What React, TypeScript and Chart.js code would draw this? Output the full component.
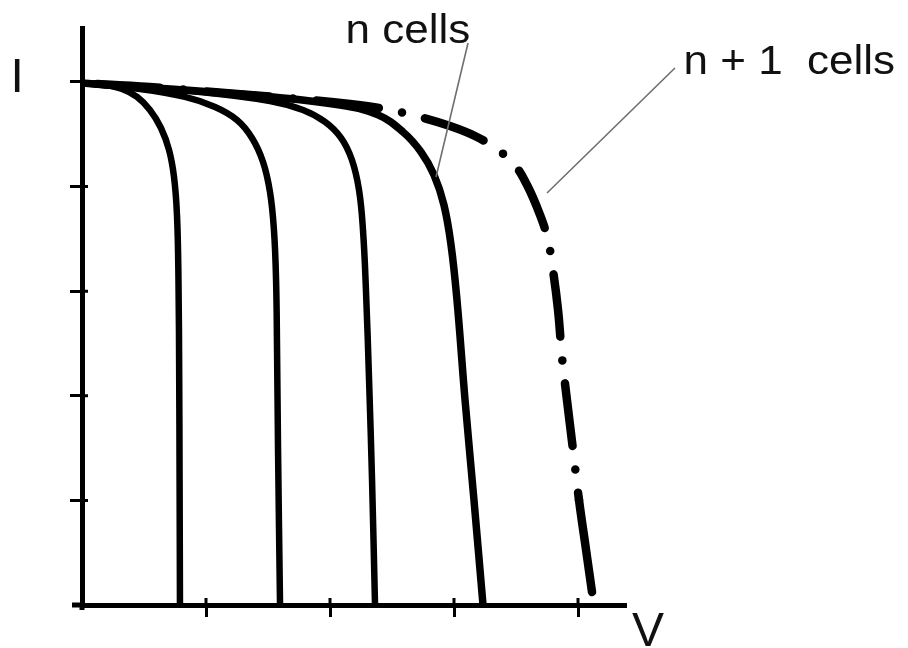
import React, { useEffect, useRef } from 'react';
import { Chart, registerables } from 'chart.js';

Chart.register(...registerables);

// ---- Data (V, I) ----
const curve1V = [0, 0.185, 0.323, 0.444, 0.548, 0.637, 0.702, 0.742, 0.766, 0.778, 0.784, 0.787, 0.79];
const curve1I = [4.99, 4.971, 4.933, 4.857, 4.732, 4.56, 4.35, 4.092, 3.728, 3.107, 2.151, 1.195, 0];

const curve2V = [0, 0.468, 0.831, 1.073, 1.25, 1.371, 1.46, 1.516, 1.548, 1.565, 1.573, 1.581, 1.597];
const curve2I = [4.99, 4.933, 4.857, 4.761, 4.637, 4.465, 4.235, 3.948, 3.585, 3.107, 2.438, 1.482, 0];

const curve3V = [0, 0.952, 1.516, 1.782, 1.96, 2.089, 2.177, 2.234, 2.266, 2.29, 2.315, 2.339, 2.363];
const curve3I = [4.99, 4.904, 4.818, 4.732, 4.618, 4.465, 4.254, 3.967, 3.585, 3.011, 2.151, 1.195, 0];

// "n cells"
const curveNV = [0, 1.355, 2.081, 2.387, 2.589, 2.734, 2.839, 2.919, 2.976, 3.024, 3.089, 3.161, 3.234];
const curveNI = [4.99, 4.876, 4.78, 4.685, 4.522, 4.331, 4.111, 3.824, 3.442, 2.916, 1.96, 1.004, 0];

// "n + 1 cells" (dash-dot)
const curveN1V = [0, 0.548, 0.952, 1.355, 1.758, 2.161, 2.484, 2.726, 2.968, 3.169, 3.331, 3.476, 3.589, 3.694, 3.758, 3.798, 3.839, 3.871, 3.911, 3.96, 4.008, 4.065, 4.113];
const curveN1I = [4.99, 4.952, 4.914, 4.876, 4.837, 4.79, 4.732, 4.665, 4.579, 4.484, 4.369, 4.226, 4.015, 3.728, 3.489, 3.203, 2.82, 2.371, 1.96, 1.482, 1.004, 0.526, 0.124];
// index from which the last stroke of the dash-dot curve runs unbroken to its end
const curveN1SolidFrom = 20;

const xTickValues = [1, 2, 3, 4];
const yTickValues = [1, 2, 3, 4, 5];
const xMax = 4.379;
const yMax = 5.516;

const axisLabelX = 'V';
const axisLabelY = 'I';
const curveLabels = ['n cells', 'n + 1  cells'];

// annotation anchors, in data units (V, I)
const curveLabelV = [2.125, 4.851];
const curveLabelI = [5.373, 5.076];
const leaderFromV = [3.113, 4.782];
const leaderFromI = [5.373, 5.134];
const leaderToV = [2.855, 3.75];
const leaderToI = [4.092, 3.939];
const axisLabelXPos = [4.435, -0.392];
const axisLabelYPos = [-0.577, 4.904];

const toPoints = (vs: number[], is: number[]) => vs.map((v, i) => ({ x: v, y: is[i] }));

const FONT = '"Liberation Sans", Arial, sans-serif';

const annotate = {
  id: 'annotate',
  afterDraw(chart: any) {
    const { ctx, scales } = chart;
    const x = scales.x;
    const y = scales.y;
    ctx.save();

    // axis extensions past the origin and inner tick stubs
    ctx.strokeStyle = '#000';
    ctx.lineCap = 'butt';
    ctx.lineWidth = 5;
    ctx.beginPath();
    ctx.moveTo(x.left - 10, y.bottom);
    ctx.lineTo(x.left, y.bottom);
    ctx.moveTo(x.left, y.bottom);
    ctx.lineTo(x.left, y.bottom + 5);
    ctx.stroke();

    ctx.lineWidth = 3;
    ctx.beginPath();
    xTickValues.forEach((v) => {
      const px = x.getPixelForValue(v);
      ctx.moveTo(px, y.bottom);
      ctx.lineTo(px, y.bottom - 7);
    });
    yTickValues.forEach((v) => {
      const py = y.getPixelForValue(v);
      ctx.moveTo(x.left, py);
      ctx.lineTo(x.left + 6, py);
    });
    ctx.stroke();

    // leader lines
    ctx.strokeStyle = '#6f6f6f';
    ctx.lineWidth = 1.6;
    ctx.beginPath();
    for (let i = 0; i < leaderFromV.length; i++) {
      ctx.moveTo(x.getPixelForValue(leaderFromV[i]), y.getPixelForValue(leaderFromI[i]));
      ctx.lineTo(x.getPixelForValue(leaderToV[i]), y.getPixelForValue(leaderToI[i]));
    }
    ctx.stroke();

    // curve labels
    ctx.fillStyle = '#111';
    ctx.textBaseline = 'alphabetic';
    ctx.textAlign = 'left';
    ctx.font = `40px ${FONT}`;
    curveLabels.forEach((t, i) => {
      ctx.save();
      ctx.translate(x.getPixelForValue(curveLabelV[i]), y.getPixelForValue(curveLabelI[i]));
      ctx.scale(1.1, 1);
      ctx.fillText(t, 0, 0);
      ctx.restore();
    });

    // axis labels
    ctx.font = `48px ${FONT}`;
    ctx.fillText(axisLabelX, x.getPixelForValue(axisLabelXPos[0]), y.getPixelForValue(axisLabelXPos[1]));
    ctx.fillText(axisLabelY, x.getPixelForValue(axisLabelYPos[0]), y.getPixelForValue(axisLabelYPos[1]));

    ctx.restore();
  },
};

export default function App() {
  const ref = useRef<HTMLCanvasElement | null>(null);

  useEffect(() => {
    if (!ref.current) return;
    const solid = (vs: number[], is: number[], w: number) => ({
      data: toPoints(vs, is),
      borderColor: '#000',
      borderWidth: w,
      pointRadius: 0,
      tension: 0.4,
      borderCapStyle: 'round' as const,
      borderJoinStyle: 'round' as const,
      fill: false,
    });
    const chart = new Chart(ref.current, {
      type: 'line',
      data: {
        datasets: [
          solid(curve1V, curve1I, 6.5),
          solid(curve2V, curve2I, 6.5),
          solid(curve3V, curve3I, 6.5),
          solid(curveNV, curveNI, 7.5),
          {
            data: toPoints(curveN1V, curveN1I),
            borderColor: '#000',
            borderWidth: 8.5,
            pointRadius: 0,
            tension: 0.4,
            borderCapStyle: 'round',
            borderJoinStyle: 'round',
            borderDash: [63, 23.5, 0, 23.5],
            borderDashOffset: 95,
            segment: {
              borderDash: (c: any) => (c.p0DataIndex >= curveN1SolidFrom ? [] : undefined),
            },
            fill: false,
          },
        ],
      },
      options: {
        responsive: false,
        animation: false,
        events: [],
        layout: { padding: { left: 70, top: 28, right: 283, bottom: 31 } },
        plugins: { legend: { display: false }, tooltip: { enabled: false }, title: { display: false } },
        scales: {
          x: {
            type: 'linear',
            min: 0,
            max: xMax,
            afterBuildTicks: (s: any) => {
              s.ticks = xTickValues.map((v) => ({ value: v }));
            },
            afterFit: (s: any) => {
              s.height = 12;
            },
            ticks: { display: false },
            grid: { display: true, drawOnChartArea: false, drawTicks: true, tickLength: 12, color: '#000', lineWidth: 3 },
            border: { display: true, color: '#000', width: 5 },
          },
          y: {
            type: 'linear',
            min: 0,
            max: yMax,
            afterBuildTicks: (s: any) => {
              s.ticks = yTickValues.map((v) => ({ value: v }));
            },
            afterFit: (s: any) => {
              s.width = 12;
            },
            ticks: { display: false },
            grid: { display: true, drawOnChartArea: false, drawTicks: true, tickLength: 12, color: '#000', lineWidth: 3 },
            border: { display: true, color: '#000', width: 5 },
          },
        },
      },
      plugins: [annotate],
    });
    return () => chart.destroy();
  }, []);

  return (
    <div style={{ position: 'fixed', left: 0, top: 0, width: 908, height: 648, background: '#fff' }}>
      <canvas ref={ref} width={908} height={648} style={{ display: 'block' }} />
    </div>
  );
}
